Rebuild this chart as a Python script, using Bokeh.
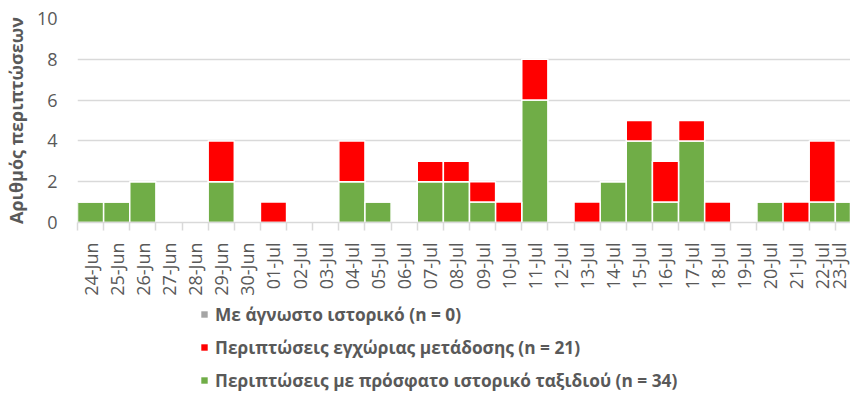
import math
from bokeh.plotting import figure
from bokeh.layouts import column
from bokeh.models import FixedTicker, Legend, LegendItem, Range1d, ColumnDataSource
from bokeh.embed import file_html
from bokeh.resources import INLINE

dates = ["24-Jun", "25-Jun", "26-Jun", "27-Jun", "28-Jun", "29-Jun", "30-Jun",
         "01-Jul", "02-Jul", "03-Jul", "04-Jul", "05-Jul", "06-Jul", "07-Jul",
         "08-Jul", "09-Jul", "10-Jul", "11-Jul", "12-Jul", "13-Jul", "14-Jul",
         "15-Jul", "16-Jul", "17-Jul", "18-Jul", "19-Jul", "20-Jul", "21-Jul",
         "22-Jul", "23-Jul"]
travel = [1, 1, 2, 0, 0, 2, 0, 0, 0, 0, 2, 1, 0, 2, 2, 1, 0, 6, 0, 0, 2, 4, 1, 4, 0, 0, 1, 0, 1, 1]
local = [0, 0, 0, 0, 0, 2, 0, 1, 0, 0, 2, 0, 0, 1, 1, 1, 1, 2, 0, 1, 0, 1, 2, 1, 1, 0, 0, 1, 3, 0]
unknown = [0] * 30
y_ticks = [0, 2, 4, 6, 8, 10]

labels = ["Με άγνωστο ιστορικό (n = 0)",
          "Περιπτώσεις εγχώριας μετάδοσης (n = 21)",
          "Περιπτώσεις με πρόσφατο ιστορικό ταξιδιού (n = 34)"]
colors = ["#a5a5a5", "#ff0000", "#70ad47"]

FONT = "Open Sans"
TXT = "#595959"

x = list(range(len(dates)))
src = ColumnDataSource(dict(
    x=x,
    t0=[0] * 30, t1=travel,
    l0=travel, l1=[a + b for a, b in zip(travel, local)],
    u0=[a + b for a, b in zip(travel, local)],
    u1=[a + b + c for a, b, c in zip(travel, local, unknown)],
))

p = figure(width=850, height=298, output_backend="svg", toolbar_location=None,
           x_range=Range1d(-0.5, 29.08), y_range=Range1d(0, 10),
           min_border_left=69, min_border_right=0, min_border_top=18,
           min_border_bottom=75)
p.outline_line_color = None
p.background_fill_color = "white"

r_travel = p.vbar(x="x", bottom="t0", top="t1", width=1.0, source=src,
                  fill_color=colors[2], line_color="white", line_width=1.5)
r_local = p.vbar(x="x", bottom="l0", top="l1", width=1.0, source=src,
                 fill_color=colors[1], line_color="white", line_width=1.5)
r_unknown = p.vbar(x="x", bottom="u0", top="u1", width=1.0, source=src,
                   fill_color=colors[0], line_color=None)

# y axis
p.yaxis.ticker = FixedTicker(ticks=y_ticks)
p.yaxis.axis_line_color = None
p.yaxis.major_tick_line_color = None
p.yaxis.minor_tick_line_color = None
p.yaxis.major_label_text_font = FONT
p.yaxis.major_label_text_font_size = "18px"
p.yaxis.major_label_text_color = TXT
p.yaxis.major_label_standoff = 14
p.yaxis.axis_label = "Αριθμός περιπτώσεων"
p.yaxis.axis_label_text_font = FONT
p.yaxis.axis_label_text_font_size = "18px"
p.yaxis.axis_label_text_font_style = "bold"
p.yaxis.axis_label_text_color = TXT
p.yaxis.axis_label_standoff = 6

p.ygrid.grid_line_color = "#d9d9d9"
p.ygrid.grid_line_width = 1.5
p.xgrid.grid_line_color = None

# x axis
p.xaxis.ticker = FixedTicker(ticks=x, minor_ticks=[i - 0.5 for i in range(31)])
p.xaxis.major_label_overrides = {i: d for i, d in enumerate(dates)}
p.xaxis.major_label_orientation = math.pi / 2
p.xaxis.major_label_text_font = FONT
p.xaxis.major_label_text_font_size = "18px"
p.xaxis.major_label_text_color = TXT
p.xaxis.major_label_standoff = 12
p.xaxis.major_tick_line_color = None
p.xaxis.minor_tick_out = 8
p.xaxis.minor_tick_in = 0
p.xaxis.minor_tick_line_color = "#d9d9d9"
p.xaxis.minor_tick_line_width = 1.5
p.xaxis.axis_line_color = "#d9d9d9"
p.xaxis.axis_line_width = 1.5

# legend in a separate strip below the chart (frame aligned with chart frame)
p2 = figure(width=850, height=94, output_backend="svg", toolbar_location=None,
            x_axis_location=None, y_axis_location=None,
            x_range=Range1d(0, 1), y_range=Range1d(0, 1),
            min_border=0)
p2.outline_line_color = None
p2.grid.grid_line_color = None
# zero-height swatch renderers; they only feed the legend
g_unknown = p2.vbar(x=[0.5], bottom=[0], top=[0], width=0.1, fill_color=colors[0], line_color=None)
g_local = p2.vbar(x=[0.5], bottom=[0], top=[0], width=0.1, fill_color=colors[1], line_color=None)
g_travel = p2.vbar(x=[0.5], bottom=[0], top=[0], width=0.1, fill_color=colors[2], line_color=None)

legend = Legend(items=[
    LegendItem(label=labels[0], renderers=[g_unknown]),
    LegendItem(label=labels[1], renderers=[g_local]),
    LegendItem(label=labels[2], renderers=[g_travel]),
], orientation="vertical", location=(123, 0))
legend.border_line_color = None
legend.background_fill_alpha = 0
legend.label_text_font = FONT
legend.label_text_font_size = "17.3px"
legend.label_text_font_style = "bold"
legend.label_text_color = TXT
legend.glyph_width = 8
legend.glyph_height = 8
legend.label_height = 24
legend.spacing = 9
legend.padding = 0
legend.margin = 0
legend.label_standoff = 7
p2.add_layout(legend, "center")

layout = column(p, p2, spacing=0)
open("out.html", "w").write(file_html(layout, INLINE))
